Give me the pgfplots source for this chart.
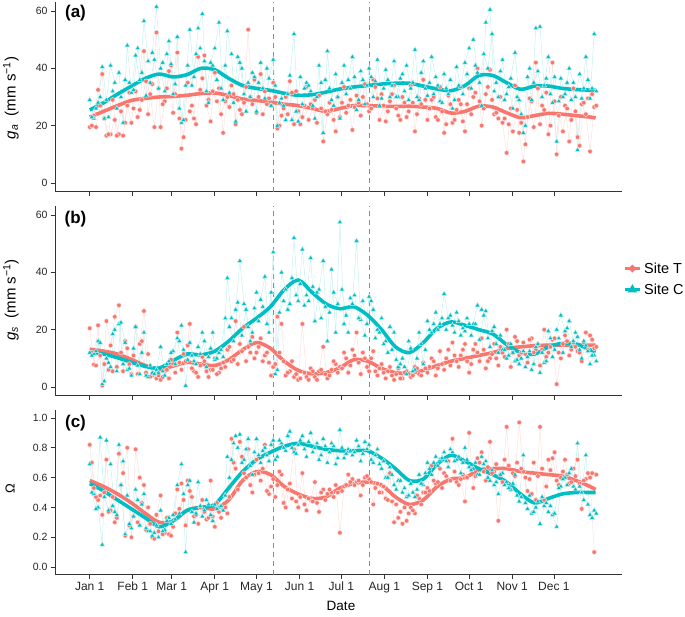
\documentclass[border=0pt]{standalone}
\usepackage{pgfplots}
\pgfplotsset{compat=1.18}
\usepackage{pgfplotstable}
\usepackage{fontspec}
\setmainfont{Liberation Sans}
\definecolor{tcol}{HTML}{F8766D}
\definecolor{ccol}{HTML}{00BFC4}
\definecolor{tlight}{HTML}{FDE0DE}
\definecolor{clight}{HTML}{C8F0F1}
\definecolor{axcol}{HTML}{333333}

\pgfplotstableread{
x aT aC bT bC cT cC
0 19.5 29 20.5 12 0.82 0.69
3 23.5 22.5 7.8 11.5 0.53 0.49
6 32.5 28 21.5 16 0.45 0.40
9 38 40.5 0.5 1 0.35 0.15
12 16.5 29 23 10 0.72 0.85
15 17 41 14.5 7 0.38 0.69
18 22 35 24.5 20 0.30 0.37
21 17 38.5 28.5 22 0.76 0.82
24 16.5 21 5.5 8 0.63 0.71
27 27 48 13.5 6 0.80 0.48
30 21 31.5 4.5 4 0.20 0.26
33 32 44.5 21 21 0.79 0.52
36 25.5 36 15 4.5 0.60 0.28
39 46 56.5 26.5 19 0.55 0.49
42 24 42.5 11.5 3.5 0.40 0.24
45 34.5 45.5 4 5 0.20 0.21
48 52.5 61.5 3 6 0.35 0.28
51 19.5 40 2.5 14 0.48 0.38
54 28.5 32 5.5 4 0.23 0.25
57 39 49.5 3 9 0.22 0.33
60 24.5 31 8 12.5 0.27 0.35
63 45.5 51 19 17 0.52 0.55
66 12 21 6 21.5 0.56 0.69
69 22 34 9 0.5 0.28 0.10
72 25 53.5 22 15.5 0.51 0.58
75 22.5 37 5.5 9 0.34 0.30
78 44 54 3.5 14 0.29 0.57
81 36.5 59 10.5 19 0.45 0.34
84 27 32 5.5 7 0.32 0.45
87 21.5 42 6 13.5 0.58 0.35
90 38.5 47 10 9.5 0.27 0.42
93 33 56 5 12 0.37 0.40
96 17.5 29 8.5 10.5 0.39 0.38
99 30 53 13 38 0.36 0.74
102 34 45 9 24 0.86 0.72
105 20.5 21.5 23 27 0.66 0.88
108 25.5 42 15 44 0.84 0.89
111 28 31 21 29 0.63 0.72
114 53.5 35 14 21 0.79 0.86
117 27.5 38.5 17.5 19 0.50 0.62
120 24.5 25 12 33 0.72 0.86
123 38 42 17 30.5 0.58 0.70
126 32 29.5 11 38.5 0.82 0.80
129 29.5 36.5 8.5 19 0.49 0.71
132 35 43 7 47 0.59 0.85
135 19 20 24.5 6 0.55 0.74
138 23.5 29.5 22 40 0.62 0.83
141 30 22 4 34 0.40 0.78
144 35.5 37.5 5.5 29 0.56 0.91
147 20.5 52 3.5 52 0.79 0.77
150 25 21.5 2.5 30 0.40 0.82
153 23 27.5 22 48 0.63 0.88
156 33.5 35 3.5 32 0.38 0.74
159 27.5 32 6.5 45 0.45 0.90
162 29 22.5 3.5 23 0.57 0.80
165 30.5 41 5.5 34 0.37 0.72
168 14.5 17.5 14 44 0.52 0.86
171 24 46 3 16 0.49 0.70
174 25.5 29 6 41 0.50 0.83
177 18 38 8 19 0.55 0.69
180 23 22.5 7 57.5 0.23 0.92
183 33.5 41 12 22 0.54 0.73
186 27 36 5 19 0.62 0.79
189 18.5 44 13 29 0.59 0.75
192 30.5 25.5 19 51 0.57 0.85
195 23.5 39 4.5 23.5 0.48 0.71
198 34.5 27.5 10 18 0.60 0.84
201 25 40 5.5 31.5 0.59 0.82
204 36 30 12.5 27 0.42 0.70
207 29.5 43 4 20 0.56 0.79
210 31 29.5 8 24 0.50 0.66
213 21.5 39.5 3 16 0.46 0.60
216 28.5 30 7 21 0.63 0.67
219 34 42.5 2.5 19 0.30 0.55
222 23.5 30 6.5 7 0.33 0.58
225 30 38 3 10 0.29 0.50
228 23 41 5.5 4.5 0.31 0.47
231 34 33 3.5 13.5 0.40 0.56
234 18 46.5 7 6 0.36 0.47
237 29.5 29 4.5 19 0.46 0.62
240 36 42.5 8.5 8 0.50 0.55
243 22 30.5 5 23 0.53 0.70
246 29 44 10 19 0.68 0.62
249 23 37 4 26 0.56 0.74
252 33.5 28.5 12.5 22 0.66 0.72
255 17.5 38 6 32.5 0.63 0.77
258 30.5 31 13 24 0.71 0.67
261 21 26 15.5 21.5 0.86 0.77
264 25.5 40.5 9 26 0.57 0.72
267 27.5 33.5 11 18 0.59 0.63
270 18 42 15 19.5 0.44 0.80
273 33 47 5 22 0.90 0.67
276 30 50 13 22 0.53 0.66
279 40 38.5 12 28.5 0.73 0.62
282 20 27 17 27 0.77 0.74
285 31 56 6.5 26.5 0.58 0.71
288 39.5 60.5 10 14 0.84 0.58
291 24 32 15 21 0.64 0.55
294 22.5 30 7.5 12 0.31 0.49
297 21 43 12 13 0.57 0.63
300 10.5 31 20 10 0.94 0.57
303 26 36.5 7 15 0.52 0.52
306 34 45.5 17.5 9 0.61 0.62
309 17.5 29 11 8 0.97 0.44
312 7.5 17.5 15.5 12.5 0.64 0.75
315 23 37 8.5 10.5 0.51 0.39
318 28.5 29 17 6 0.49 0.36
321 42 54 13 14 0.45 0.40
324 20.5 54.5 7.5 5 0.94 0.29
327 25.5 34 20 8.5 0.45 0.41
330 17 44 12 19.5 0.72 0.37
333 42 28 16.5 10.5 0.73 0.35
336 10 14.5 1 20 0.58 0.27
339 30 36.5 10 25 0.60 0.54
342 27 31 18 19.5 0.72 0.60
345 14.5 40 11 23 0.56 0.63
348 33 35 15.5 16 0.66 0.54
351 16 11.5 12.5 17.5 0.72 0.83
354 27.5 29.5 9 10 0.39 0.50
357 24 44 19 14.5 0.59 0.75
360 11 29.5 18 8 0.60 0.35
363 26.5 52 13.5 11 0.10 0.38
}\pts

\pgfplotstableread{
x aT aC bT bC cT cC
1.5 20 23 12 11 0.70 0.50
4.5 19.5 26 7.5 12.5 0.47 0.39
7.5 27 30 11 15.5 0.48 0.87
10.5 22.5 22.5 8 2 0.50 0.47
13.5 17 23 6 8.5 0.37 0.38
16.5 29 32 5.5 18.5 0.47 0.41
19.5 16.5 26 7 5.5 0.33 0.35
22.5 25 30 12 22.5 0.55 0.55
25.5 21 36 16 15.5 0.21 0.22
28.5 31.5 35 8 6.5 0.28 0.29
31.5 26 32.5 11 13.5 0.34 0.34
34.5 23 47 4.5 7.5 0.30 0.45
37.5 29 38.5 16 12 0.43 0.42
40.5 35.5 30.5 5 4 0.25 0.26
43.5 31 35 3.5 7.5 0.29 0.24
46.5 19.5 43 5 4.5 0.19 0.23
49.5 33 33 4 5 0.24 0.20
52.5 27.5 42 3.5 5.5 0.22 0.24
55.5 33 45 6 8 0.33 0.31
58.5 41 41.5 9.5 12 0.21 0.29
61.5 31 34.5 5 8 0.36 0.32
64.5 22.5 26 8.5 16 0.39 0.36
67.5 16 22 11.5 13 0.45 0.49
70.5 35 41 14.5 9.5 0.58 0.55
73.5 27 34 6.5 11 0.47 0.37
76.5 20.5 45 5 8 0.35 0.36
79.5 32.5 47 7.5 11.5 0.40 0.41
82.5 44.5 42.5 9 16 0.37 0.38
85.5 29 28 3.5 10.5 0.33 0.42
88.5 32 41 6 19 0.34 0.31
91.5 28.5 36 4.5 10 0.43 0.39
94.5 24 33 6.5 13 0.33 0.41
97.5 28.5 41 7 24 0.40 0.48
100.5 26.5 31.5 14 21 0.47 0.60
103.5 31 28 9.5 16 0.70 0.83
106.5 29 44 8 29.5 0.52 0.80
109.5 24 40 12.5 18 0.74 0.70
112.5 33.5 25 9 27 0.60 0.79
115.5 30 30 12 16 0.55 0.68
118.5 36 37 10 27.5 0.62 0.77
121.5 30 35 14 23 0.63 0.75
124.5 24 33 9 28 0.66 0.78
127.5 27.5 40 12 22 0.51 0.75
130.5 27 27 4 33 0.54 0.82
133.5 30 34 8 4.5 0.47 0.72
136.5 20 28 12 26 0.64 0.85
139.5 26 27 9 30 0.43 0.80
142.5 24 31 5 27 0.52 0.88
145.5 31.5 22 9 38 0.46 0.80
148.5 32 25 4.5 32 0.44 0.76
151.5 20.5 37 3 36 0.47 0.85
154.5 27 33 5 28.5 0.42 0.79
157.5 22 34 2.5 30 0.46 0.84
160.5 26 27 5.5 35 0.44 0.77
163.5 21 30 2.5 33 0.43 0.83
166.5 26 35 6 24 0.50 0.75
169.5 25 36 4.5 28 0.45 0.81
172.5 28 33 4 26 0.52 0.77
175.5 22 27 9 33 0.47 0.81
178.5 30 30 5 29 0.50 0.73
181.5 28 35 6.5 34 0.51 0.80
184.5 24.5 31 10 25 0.55 0.76
187.5 29 33 7.5 31 0.57 0.78
190.5 26.5 37 11 32 0.55 0.77
193.5 28 29 8.5 24 0.58 0.81
196.5 30 36 12 30 0.55 0.76
199.5 27.5 34 7 22 0.61 0.79
202.5 26 37 10 30 0.57 0.72
205.5 33.5 35.5 5.5 17 0.53 0.75
208.5 22 27 6.5 19 0.50 0.69
211.5 27 33 5 15 0.54 0.71
214.5 25 36 5.5 12 0.45 0.60
217.5 31 34 4 13 0.44 0.62
220.5 26 30 4.5 9.5 0.42 0.52
223.5 22 36.5 3 8 0.37 0.58
226.5 28 32 5 7 0.40 0.53
229.5 25 29 4.5 16 0.36 0.48
232.5 28 35 4 5.5 0.38 0.50
235.5 24 30 6.5 10 0.48 0.52
238.5 27.5 38.5 4 15 0.42 0.56
241.5 29 33 6.5 13 0.50 0.63
244.5 26 35 7 20 0.51 0.66
247.5 30 31 9 22 0.58 0.70
250.5 22 34 6.5 20 0.57 0.68
253.5 25 28 8 24 0.53 0.73
256.5 20.5 33 10 20 0.61 0.71
259.5 27.5 36 7.5 25 0.58 0.79
262.5 22 29 11 19 0.64 0.71
265.5 29 34 7 23 0.55 0.74
268.5 21.5 31 13 20.5 0.62 0.70
271.5 27.5 38 9 24 0.60 0.72
274.5 24 33 8 18 0.66 0.65
277.5 31.5 41 15 22 0.61 0.70
280.5 28.5 35 9 16.5 0.70 0.62
283.5 26 45 13 25 0.64 0.69
286.5 33.5 40 9 17 0.67 0.60
289.5 29 52 11.5 19.5 0.63 0.65
292.5 24.5 35 10 15 0.69 0.57
295.5 30 39 14 18 0.62 0.62
298.5 22.5 29 10.5 13 0.72 0.55
301.5 20.5 33.5 15 11 0.68 0.53
304.5 18 26 12 12 0.63 0.56
307.5 25.5 30 16 9.5 0.70 0.48
310.5 21 24 12 10 0.66 0.47
313.5 13.5 20 11.5 7 0.60 0.43
316.5 29.5 40 16.5 12.5 0.59 0.48
319.5 19.5 35 12 8 0.70 0.37
322.5 33 39 15 15 0.61 0.44
325.5 27 30 13 12 0.66 0.47
328.5 31.5 36.5 10.5 9 0.54 0.43
331.5 20 31 14 17 0.65 0.41
334.5 28.5 37 17 13 0.77 0.36
337.5 23.5 28.5 12 17 0.55 0.53
340.5 18 30 15 12 0.64 0.59
343.5 26 35 16 20.5 0.62 0.55
346.5 22 29 13 14 0.57 0.66
349.5 25 30 14 19 0.61 0.52
352.5 13 38 12 13 0.56 0.54
355.5 28 33 15.5 16 0.58 0.45
358.5 29.5 36 13 12.5 0.63 0.42
361.5 31 33 16.5 11 0.63 0.33
364.5 27 32 14 9 0.62 0.36
}\ptsb

\pgfplotstableread{
x aT aC bT bC cT cC
0 23 25.5 13.2 12.2 0.58 0.56
10 25 28 12.5 11.5 0.54 0.51
20 27 31 11.5 10.2 0.49 0.45
30 28.8 33.8 9.6 8.6 0.43 0.39
40 29.5 36.5 7.5 7.2 0.36 0.33
50 30 38 6.2 6.6 0.30 0.27
60 30.2 37 7.3 9.2 0.31 0.31
70 30.6 37.8 8.6 11.5 0.38 0.38
80 31.2 40 8 11.2 0.40 0.40
90 31.4 39.5 7.5 12.5 0.39 0.42
100 30.5 36.5 9.5 16 0.45 0.53
110 29.3 34 13 20.5 0.58 0.64
120 28.8 33 15.5 24 0.64 0.72
130 28.2 32.3 13.5 28 0.62 0.77
140 27.5 31.3 9 34 0.54 0.81
150 27 30.6 5.8 37.3 0.49 0.83
160 26 30.8 4.6 33 0.46 0.81
170 25 31.7 5 29 0.47 0.79
180 26 32.8 6.7 27.3 0.53 0.78
190 27 33.5 9.5 28 0.56 0.78
200 27 34 9 25 0.57 0.78
210 26.8 34.5 6.5 20 0.55 0.73
220 26.7 34.8 5 14 0.47 0.66
230 26.8 34.8 4.8 12 0.42 0.58
240 26.5 33.8 5.8 15.5 0.45 0.59
250 26 32.8 7.5 20.5 0.54 0.69
260 24.4 32.2 9 22.7 0.59 0.75
270 25 34 10 21.5 0.60 0.71
280 26.8 37.5 11 20 0.65 0.66
290 26.5 37.5 12 18.5 0.66 0.62
300 24.5 35 13.4 14.8 0.66 0.57
310 22.8 32.7 14 12 0.64 0.49
320 23.5 33.8 14.4 11.5 0.63 0.43
330 24.3 33.8 14.6 14 0.62 0.46
340 24 33 14.6 15.2 0.61 0.49
350 23.5 32.6 14.6 15 0.58 0.50
360 23 32.4 14.6 13 0.54 0.50
364 22.7 32.4 14.6 12.2 0.52 0.50
}\smo

\pgfplotsset{
  panel/.style={
    scale only axis, width=567pt,
    xmin=-25, xmax=383,
    axis x line*=bottom, axis y line*=left,
    axis line style={-, axcol, line width=0.8pt},
    every tick/.style={axcol, line width=0.8pt},
    tick align=outside, major tick length=4pt,
    xtick={0,31,59,90,120,151,181,212,243,273,304,334},
    yticklabel style={font=\fontsize{10.5}{12}\selectfont, text=black!85},
    xticklabel style={font=\fontsize{12}{14}\selectfont, text=black!85},
    /pgf/number format/assume math mode=true,
  },
  tser/.style={tlight, line width=0.5pt, mark=*, mark size=2.3pt, mark options={draw=none, fill=tcol, solid}},
  cser/.style={clight, line width=0.5pt, mark=triangle*, mark size=2.9pt, mark options={draw=none, fill=ccol, solid}},
  tsm/.style={tcol, line width=3.6pt, smooth, no marks},
  csm/.style={ccol, line width=3.6pt, smooth, no marks},
  vdash/.style={black!45, line width=0.9pt, dash pattern=on 5pt off 4pt, no marks},
}

\begin{document}
\begin{tikzpicture}
\path[use as bounding box] (0,0) rectangle (685pt,616pt);

% panel a
\begin{axis}[panel, at={(55pt,424.4pt)}, anchor=south west, height=189.2pt,
  ymin=-3, ymax=63, ytick={0,20,40,60}, xticklabels={}]
\addplot[vdash] coordinates {(132,-3) (132,63)};
\addplot[vdash] coordinates {(201,-3) (201,63)};
\addplot[tser] table[x=x,y=aT] {\pts};
\addplot[tser] table[x=x,y=aT] {\ptsb};
\addplot[cser] table[x=x,y=aC] {\pts};
\addplot[cser] table[x=x,y=aC] {\ptsb};
\addplot[tsm] table[x=x,y=aT] {\smo};
\addplot[csm] table[x=x,y=aC] {\smo};
\end{axis}

% panel b
\begin{axis}[panel, at={(55pt,220.4pt)}, anchor=south west, height=189.2pt,
  ymin=-3, ymax=63, ytick={0,20,40,60}, xticklabels={},
  legend style={at={(1,0.616)}, anchor=west, draw=none, fill=none, inner xsep=1pt,
    font=\fontsize{14.5}{16}\selectfont, row sep=5pt,
    nodes={inner xsep=2.5pt, inner ysep=2pt}},
  legend cell align=left,
  legend image code/.code={\draw[mark repeat=2,mark phase=2,#1] plot coordinates {(0pt,0pt)(7.5pt,0pt)(15pt,0pt)};}]
\addlegendimage{tcol, line width=3.4pt, mark=*, mark size=1.6pt, mark options={draw=none, fill=tcol}}
\addlegendentry{Site T}
\addlegendimage{ccol, line width=3.4pt, mark=triangle*, mark size=2pt, mark options={draw=none, fill=ccol}}
\addlegendentry{Site C}
\addplot[vdash, forget plot] coordinates {(132,-3) (132,63)};
\addplot[vdash, forget plot] coordinates {(201,-3) (201,63)};
\addplot[tser, forget plot] table[x=x,y=bT] {\pts};
\addplot[tser, forget plot] table[x=x,y=bT] {\ptsb};
\addplot[cser, forget plot] table[x=x,y=bC] {\pts};
\addplot[cser, forget plot] table[x=x,y=bC] {\ptsb};
\addplot[tsm, forget plot] table[x=x,y=bT] {\smo};
\addplot[csm, forget plot] table[x=x,y=bC] {\smo};
\end{axis}

% panel c
\begin{axis}[panel, at={(55pt,41.5pt)}, anchor=south west, height=164pt,
  ymin=-0.05, ymax=1.05, ytick={0,0.2,0.4,0.6,0.8,1.0},
  yticklabel style={/pgf/number format/.cd, fixed, fixed zerofill, precision=1},
  xticklabels={Jan 1,Feb 1,Mar 1,Apr 1,May 1,Jun 1,Jul 1,Aug 1,Sep 1,Oct 1,Nov 1,Dec 1}]
\addplot[vdash] coordinates {(132,-0.05) (132,1.05)};
\addplot[vdash] coordinates {(201,-0.05) (201,1.05)};
\addplot[tser] table[x=x,y=cT] {\pts};
\addplot[tser] table[x=x,y=cT] {\ptsb};
\addplot[cser] table[x=x,y=cC] {\pts};
\addplot[cser] table[x=x,y=cC] {\ptsb};
\addplot[tsm] table[x=x,y=cT] {\smo};
\addplot[csm] table[x=x,y=cC] {\smo};
\end{axis}

% titles and labels
\node[font=\bfseries\fontsize{17}{19}\selectfont] at (75.5pt,603pt) {(a)};
\node[font=\bfseries\fontsize{17}{19}\selectfont] at (75.5pt,397pt) {(b)};
\node[font=\bfseries\fontsize{17}{19}\selectfont] at (75.5pt,193pt) {(c)};
\node[rotate=90, font=\fontsize{15}{17}\selectfont] at (11pt,518pt) {\textit{g}\textsubscript{\textit{a}}\ \ (mm\ s\textsuperscript{−1})};
\node[rotate=90, font=\fontsize{15}{17}\selectfont] at (11pt,316pt) {\textit{g}\textsubscript{\textit{s}}\ \ (mm\ s\textsuperscript{−1})};
\node[rotate=90, font=\fontsize{13}{15}\selectfont] at (10pt,127pt) {Ω};
\node[font=\fontsize{13.5}{15}\selectfont] at (341pt,10pt) {Date};
\end{tikzpicture}
\end{document}
